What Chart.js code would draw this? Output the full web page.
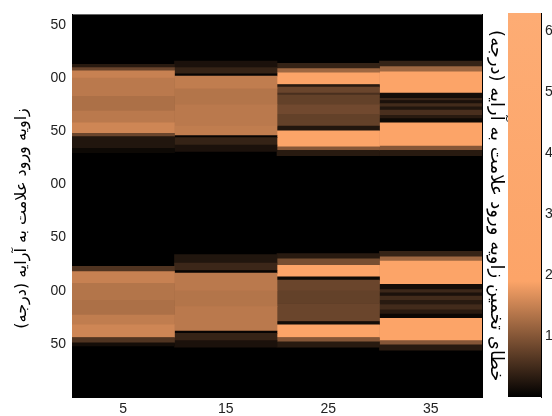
<!DOCTYPE html>
<html>
<head>
<meta charset="utf-8">
<script src="https://cdn.jsdelivr.net/npm/chart.js@4/dist/chart.umd.min.js"></script>
<style>
  body { margin: 0; background: #fff; }
  #wrap { position: relative; width: 552px; height: 416px; }
  canvas { position: absolute; left: 0; top: 0; }
</style>
</head>
<body>
<div id="wrap">
  <canvas id="heat" width="552" height="416"></canvas>
  <canvas id="cbar" width="552" height="416"></canvas>
</div>
<script>
// axes
const xLabels = ['5', '15', '25', '35'];
const yTickValues = [50, 100, 150, 200, 250, 300, 350];
const yTickLabels = ['50', '00', '50', '00', '50', '00', '50'];
const yRange = [40, 400];

// bandes de chaque colonne : [debut, fin, erreur]
const bands5 = [
  [87, 90, 0.3], [90, 93, 0.8], [93, 100, 1.5], [100, 117, 1.4], [117, 131, 1.3],
  [131, 142, 1.4], [142, 152, 1.55], [152, 155, 0.8], [155, 166, 0.25], [166, 170, 0.1],
  [277, 282, 0.6], [282, 293, 1.5], [293, 309, 1.35], [309, 323, 1.3], [323, 332, 1.45],
  [332, 344, 1.55], [344, 349, 0.6], [349, 352, 0.15]
];
const bands15 = [
  [84, 90, 0.2], [90, 96, 0.4], [96, 98, 0.05], [98, 110, 1.45], [110, 125, 1.35],
  [125, 145, 1.4], [145, 154, 1.45], [154, 156, 0.05], [156, 163, 0.4], [163, 169, 0.2],
  [266, 274, 0.25], [274, 281, 0.45], [281, 283.5, 0.05], [283.5, 300, 1.4], [300, 315, 1.35],
  [315, 338, 1.4], [338, 340, 0.05], [340, 347, 0.4], [347, 353, 0.2]
];
const bands25 = [
  [86, 91, 0.4], [91, 95, 1.2], [95, 106, 6], [106, 108.5, 0.3], [108.5, 114, 0.8],
  [114, 116, 0.55], [116, 125, 0.75], [125, 134, 0.85], [134, 145, 0.75], [145, 149.5, 0.25],
  [149.5, 164.5, 6], [164.5, 168, 1.0], [168, 173, 0.3],
  [265, 270, 0.3], [270, 276, 0.9], [276, 287, 6], [287, 290, 0.1], [290, 300, 0.8],
  [300, 312, 0.75], [312, 329, 0.8], [329, 332, 0.15], [332, 344, 6], [344, 348, 1.0], [348, 353, 0.3]
];
const bands35 = [
  [84, 89, 0.4], [89, 94, 1.2], [94, 114, 6], [114, 119, 0.15], [119, 121, 0.45],
  [121, 124, 0.2], [124, 127, 0.5], [127, 130, 0.25], [130, 135, 0.55], [135, 138, 0.3],
  [138, 142, 0.1], [142, 164, 6], [164, 168, 1.0], [168, 173, 0.3],
  [263, 268, 0.4], [268, 272, 1.2], [272, 294, 6], [294, 299, 0.15], [299, 302, 0.45],
  [302, 305, 0.2], [305, 309, 0.5], [309, 313, 0.3], [313, 318, 0.5], [318, 322, 0.3],
  [322, 326, 0.08], [326, 347, 6], [347, 351, 1.0], [351, 356, 0.3]
];
const allBands = [bands5, bands15, bands25, bands35];

// barre de couleur
const cbRange = [0, 6.3];
const cbKnee = 1.9;
const cbTicks = [1, 2, 3, 4, 5, 6];

const yTitle = 'زاویه ورود علامت به آرایه (درجه)' + '\u00A0\u00A0\u00A0\u00A0\u00A0';
const cbTitle = 'خطای تخمین زاویه ورود علامت به آرایه (درجه)';

const peach = [252, 164, 104];
function copper(v) {
  const t = Math.min(v / cbKnee, 1);
  return 'rgb(' + peach.map(c => Math.round(c * t)).join(',') + ')';
}

const blackArea = {
  id: 'blackArea',
  beforeDatasetsDraw(chart) {
    const a = chart.chartArea;
    chart.ctx.save();
    chart.ctx.fillStyle = '#000';
    chart.ctx.fillRect(a.left, a.top, a.right - a.left, a.bottom - a.top);
    chart.ctx.restore();
  }
};

const tickFont = { family: 'Liberation Sans', size: 14 };

new Chart(document.getElementById('heat'), {
  type: 'bar',
  data: {
    labels: xLabels,
    datasets: allBands.map((bands, i) => ({
      data: bands.map(b => ({ x: xLabels[i], y: [b[0], b[1]] })),
      backgroundColor: bands.map(b => copper(b[2])),
      borderWidth: 0,
      grouped: false,
      barPercentage: 1,
      categoryPercentage: 1
    }))
  },
  options: {
    responsive: false,
    animation: false,
    devicePixelRatio: 1,
    layout: { padding: { left: 0, right: 44, top: 13, bottom: 0 } },
    plugins: { legend: { display: false }, tooltip: { enabled: false } },
    scales: {
      x: {
        grid: { display: false, drawTicks: false },
        border: { color: '#000' },
        ticks: { color: '#222', font: tickFont, padding: 4 },
        afterFit(s) { s.height = 19; }
      },
      y: {
        min: yRange[0], max: yRange[1], reverse: true,
        grid: { display: false, drawTicks: false },
        border: { color: '#000' },
        afterBuildTicks(s) { s.ticks = yTickValues.map(v => ({ value: v })); },
        ticks: {
          color: '#222', font: tickFont, padding: 6,
          callback: (v, i) => yTickLabels[i]
        },
        title: { display: true, text: yTitle, color: '#000',
                 font: { family: 'DejaVu Sans', size: 16 }, padding: { top: 12 } },
        afterFit(s) { s.width = 72; }
      },
      y2: {
        position: 'right', display: true,
        min: yRange[0], max: yRange[1], reverse: true,
        grid: { display: false, drawTicks: false },
        border: { color: '#000' },
        ticks: { display: false },
        title: { display: true, text: cbTitle, color: '#000',
                 font: { family: 'DejaVu Sans', size: 18 }, padding: { top: 2 } },
        afterFit(s) { s.width = 26; }
      }
    }
  },
  plugins: [blackArea]
});

new Chart(document.getElementById('cbar'), {
  type: 'bar',
  data: {
    labels: [''],
    datasets: [{
      data: [cbRange],
      borderWidth: 0,
      barPercentage: 1,
      categoryPercentage: 1,
      backgroundColor(c) {
        const ch = c.chart;
        if (!ch.chartArea) return copper(cbRange[1]);
        const ys = ch.scales.y;
        const g = ch.ctx.createLinearGradient(0, ys.getPixelForValue(cbRange[0]), 0, ys.getPixelForValue(cbRange[1]));
        g.addColorStop(0, '#000');
        g.addColorStop(cbKnee / cbRange[1], copper(cbKnee));
        g.addColorStop(1, 'rgb(253,172,116)');
        return g;
      }
    }]
  },
  options: {
    responsive: false,
    animation: false,
    devicePixelRatio: 1,
    layout: { padding: { left: 508, right: 0, top: 13, bottom: 19 } },
    plugins: { legend: { display: false }, tooltip: { enabled: false } },
    scales: {
      x: { display: false },
      y: {
        position: 'right',
        min: cbRange[0], max: cbRange[1],
        grid: { display: false, drawTicks: false },
        border: { color: '#000' },
        afterBuildTicks(s) { s.ticks = cbTicks.map(v => ({ value: v })); },
        ticks: { color: '#222', font: tickFont, padding: 4 },
        afterFit(s) { s.width = 11; }
      }
    }
  }
});
</script>
</body>
</html>
